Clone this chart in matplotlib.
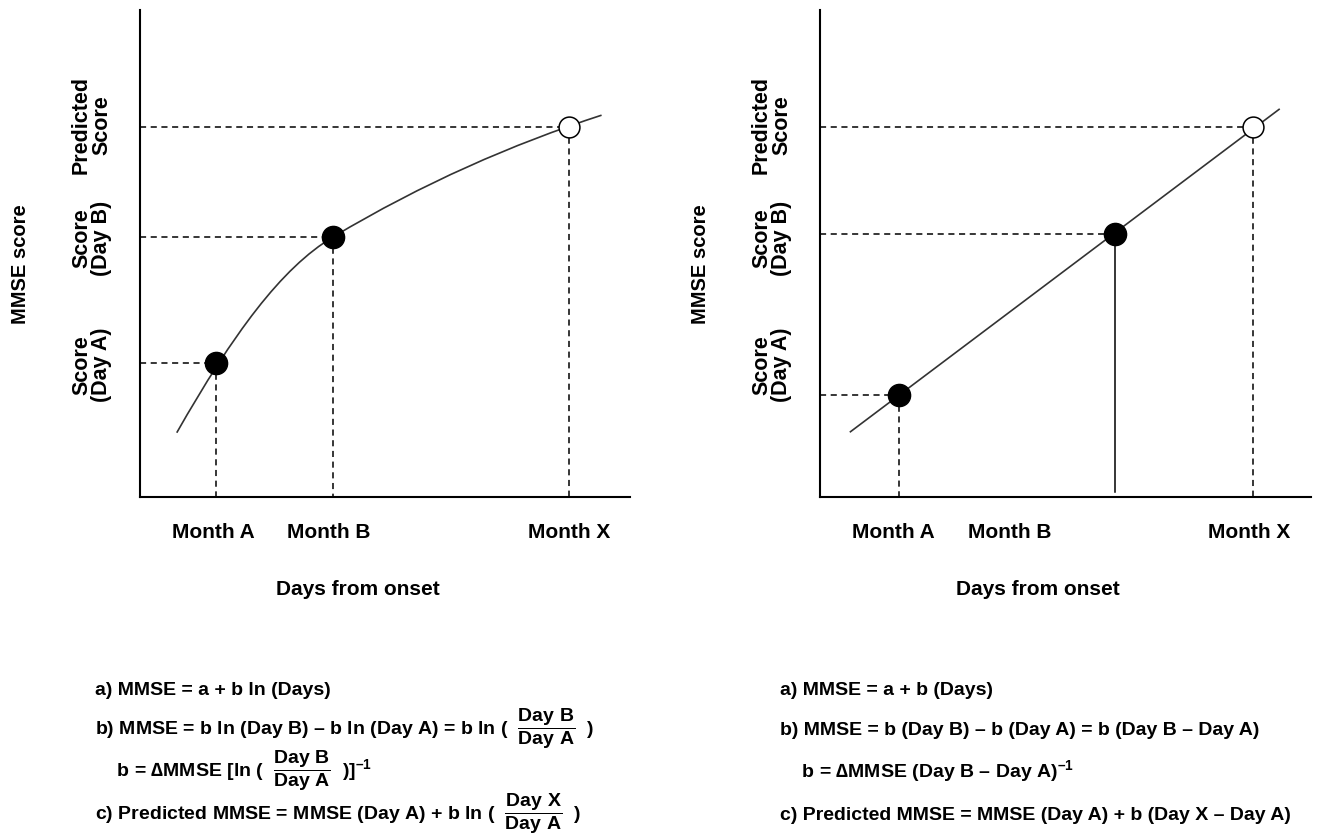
import numpy as np
import matplotlib
matplotlib.use('Agg')
import matplotlib.pyplot as plt
from matplotlib.path import Path
from matplotlib.patches import PathPatch

plt.rcParams['font.family'] = ['Liberation Sans', 'DejaVu Sans']
plt.rcParams['font.weight'] = 'bold'
plt.rcParams['mathtext.fontset'] = 'custom'
plt.rcParams['mathtext.rm'] = 'Liberation Sans:bold'
plt.rcParams['mathtext.it'] = 'Liberation Sans:bold'
plt.rcParams['mathtext.bf'] = 'Liberation Sans:bold'
plt.rcParams['mathtext.default'] = 'rm'

# axis labels (same on both panels)
month_ticks  = [15.0, 38.6, 87.5]
month_labels = ['Month A', 'Month B', 'Month X']
score_ticks  = [27.1, 53.2, 76.4]
score_labels = ['Score\n(Day A)', 'Score\n(Day B)', 'Predicted\nScore']

# left: logarithmic model, drawn as two cubic bezier pieces (start, ctrl, ctrl, B, ctrl, ctrl, end)
log_curve_x = [7.5, 19.0, 28.8, 39.4, 57.7, 75.9, 94.2]
log_curve_y = [13.2, 33.5, 47.0, 53.4, 64.4, 72.4, 78.4]
log_pts_x   = [15.6, 39.4, 87.6]
log_pts_y   = [27.5, 53.4, 76.0]

# right: linear model
lin_line_x = [6.2, 93.5]
lin_line_y = [13.4, 79.6]
lin_pts_x  = [16.1, 60.1, 88.1]
lin_pts_y  = [20.9, 54.1, 76.0]

eq_log = [
    'a) MMSE = a + b ln (Days)',
    r'b) MMSE = b ln (Day B) – b ln (Day A) = b ln (  $\dfrac{Day\ B}{Day\ A}$  )',
    r'    b = ∆MMSE [ln (  $\dfrac{Day\ B}{Day\ A}$  )]$^{–1}$',
    r'c) Predicted MMSE = MMSE (Day A) + b ln (  $\dfrac{Day\ X}{Day\ A}$  )',
]
eq_lin = [
    'a) MMSE = a + b (Days)',
    'b) MMSE = b (Day B) – b (Day A) = b (Day B – Day A)',
    r'    b = ∆MMSE (Day B – Day A)$^{–1}$',
    'c) Predicted MMSE = MMSE (Day A) + b (Day X – Day A)',
]

W, H = 1319, 840
fig = plt.figure(figsize=(W/100, H/100), dpi=100)
ax1 = fig.add_axes([140/W, 1-497/H, 490/W, 487/H])
ax2 = fig.add_axes([820/W, 1-497/H, 491/W, 487/H])

dash = dict(color='black', lw=1.1, ls=(0, (4, 3)), zorder=1)

def guides(ax, px, py, solid=()):
    for i, (x, y) in enumerate(zip(px, py)):
        ax.plot([0, x], [y, y], **dash)
        if i in solid:
            ax.plot([x, x], [y, 1], color='black', lw=1.1, zorder=1)
        else:
            ax.plot([x, x], [y, 0], **dash)

def points(ax, px, py):
    ax.plot(px[:2], py[:2], 'o', ms=16, color='black', zorder=3)
    ax.plot(px[2], py[2], 'o', ms=15, mfc='white', mec='black', mew=1.1, zorder=3)

codes = [Path.MOVETO] + [Path.CURVE4] * 6
curve = Path(np.column_stack([log_curve_x, log_curve_y]), codes)
ax1.add_patch(PathPatch(curve, fc='none', ec='#333333', lw=1.2, zorder=2))
guides(ax1, log_pts_x, log_pts_y)
points(ax1, log_pts_x, log_pts_y)

ax2.plot(lin_line_x, lin_line_y, color='#333333', lw=1.2, zorder=2)
guides(ax2, lin_pts_x, lin_pts_y, solid=(1,))
points(ax2, lin_pts_x, lin_pts_y)

for ax in (ax1, ax2):
    ax.set_xlim(0, 100)
    ax.set_ylim(0, 100)
    for s in ('top', 'right'):
        ax.spines[s].set_visible(False)
    for s in ('left', 'bottom'):
        ax.spines[s].set_linewidth(1.5)
    ax.set_xticks(month_ticks)
    ax.set_xticklabels(month_labels, fontsize=15, fontweight='bold')
    ax.set_yticks(score_ticks)
    ax.set_yticklabels(score_labels, fontsize=15.5, fontweight='bold', rotation=90,
                       ha='right', va='center', multialignment='center', linespacing=0.95)
    ax.tick_params(axis='x', length=0, pad=19)
    ax.tick_params(axis='y', length=0, pad=20)
    ax.text(-0.244, 0.478, 'MMSE score', transform=ax.transAxes, rotation=90,
            ha='center', va='center', fontsize=14.5, fontweight='bold')
    ax.text(0.444, -0.189, 'Days from onset', transform=ax.transAxes,
            ha='center', va='center', fontsize=15, fontweight='bold')

base_y = [695, 735, 777, 820]
for txt, y in zip(eq_log, base_y):
    fig.text(95/W, 1-y/H, txt, ha='left', va='baseline', fontsize=14, fontweight='bold')
for txt, y in zip(eq_lin, base_y):
    fig.text(780/W, 1-y/H, txt, ha='left', va='baseline', fontsize=14, fontweight='bold')

fig.savefig('out.png', dpi=100)
